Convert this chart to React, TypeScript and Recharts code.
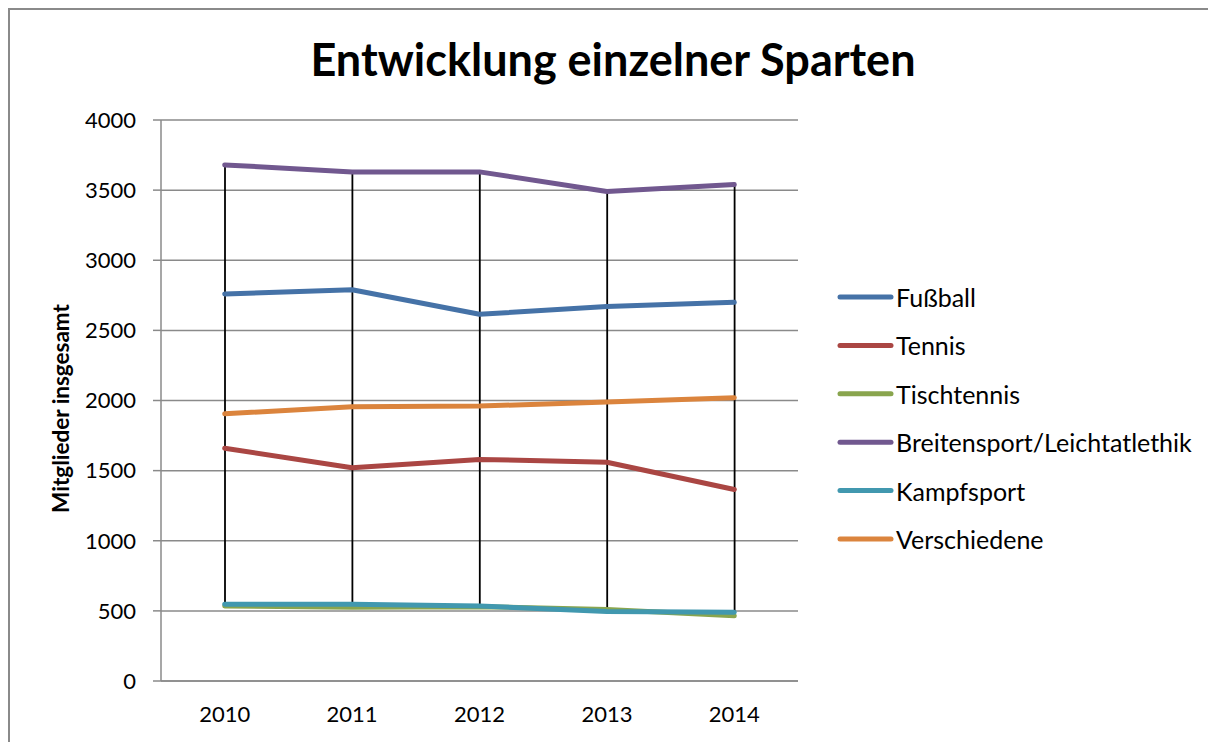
import { ComposedChart, Line, Bar, XAxis, YAxis, CartesianGrid } from 'recharts';

// Mitglieder je Sparte, 2010–2014
const years = ['2010', '2011', '2012', '2013', '2014'];
const fussball = [2760, 2790, 2615, 2670, 2700];
const tennis = [1660, 1520, 1580, 1560, 1365];
const tischtennis = [535, 525, 530, 510, 465];
const breitensport = [3680, 3630, 3630, 3490, 3540];
const kampfsport = [547, 548, 535, 495, 490];
const verschiedene = [1905, 1955, 1960, 1990, 2020];
const yTicks = [0, 500, 1000, 1500, 2000, 2500, 3000, 3500, 4000];

const series = [
  { key: 'Fußball', values: fussball, color: '#4572A7' },
  { key: 'Tennis', values: tennis, color: '#AA4643' },
  { key: 'Tischtennis', values: tischtennis, color: '#89A54E' },
  { key: 'Breitensport/Leichtatlethik', values: breitensport, color: '#71588F' },
  { key: 'Kampfsport', values: kampfsport, color: '#4198AF' },
  { key: 'Verschiedene', values: verschiedene, color: '#DB843D' },
];

// Tabelle für Recharts, inkl. Hoch-Tief-Linien (min/max je Jahr)
const data = years.map((year, i) => {
  const row: Record<string, any> = { year };
  series.forEach((s) => (row[s.key] = s.values[i]));
  const vals = series.map((s) => s.values[i]);
  row.hilo = [Math.min(...vals), Math.max(...vals)];
  return row;
});

const FONT = 'Lato, "Open Sans", sans-serif';
const GRID = '#8a8a8a';

// senkrechte schwarze Linie statt Balken
function HiLoLine(props: any) {
  const { x, y, width, height } = props;
  const cx = x + width / 2;
  return <line x1={cx} x2={cx} y1={y} y2={y + height} stroke="#000" strokeWidth={1.8} />;
}

export default function App() {
  return (
    <div
      style={{
        position: 'relative',
        width: 1208,
        height: 734,
        borderTop: `2px solid ${GRID}`,
        borderLeft: `2px solid ${GRID}`,
        boxSizing: 'border-box',
        background: '#fff',
        fontFamily: FONT,
      }}
    >
      <ComposedChart
        width={1206}
        height={732}
        data={data}
        margin={{ top: 110, right: 418, bottom: 0, left: 0 }}
      >
        <CartesianGrid vertical={false} stroke={GRID} strokeWidth={1.5} />
        <XAxis
          dataKey="year"
          height={61}
          axisLine={{ stroke: GRID, strokeWidth: 1.5 }}
          tickLine={false}
          tickSize={0}
          tickMargin={25}
          tick={{ fontSize: 22, fill: '#000', fontFamily: FONT }}
        />
        <YAxis
          width={151}
          domain={[0, 4000]}
          ticks={yTicks}
          interval={0}
          axisLine={{ stroke: GRID, strokeWidth: 1.5 }}
          tickLine={{ stroke: GRID, strokeWidth: 1.5 }}
          tickSize={8}
          tickMargin={17}
          tick={{ fontSize: 22, fill: '#000', fontFamily: FONT }}
          label={{
            content: (p: any) => {
              const vb = p.viewBox;
              const cy = vb.y + vb.height / 2 + 8;
              return (
                <text
                  x={50}
                  y={cy}
                  transform={`rotate(-90, 50, ${cy})`}
                  textAnchor="middle"
                  dominantBaseline="central"
                  fontSize={22.5}
                  fontWeight="bold"
                  fontFamily={FONT}
                  fill="#000"
                >
                  Mitglieder insgesamt
                </text>
              );
            },
          }}
        />
        {series.map((s) => (
          <Line
            key={s.key}
            dataKey={s.key}
            stroke={s.color}
            strokeWidth={5}
            strokeLinecap="round"
            strokeLinejoin="round"
            dot={false}
            activeDot={false}
            isAnimationActive={false}
          />
        ))}
        <Bar dataKey="hilo" barSize={4} shape={<HiLoLine />} isAnimationActive={false} />
      </ComposedChart>

      <svg
        width={1206}
        height={732}
        style={{ position: 'absolute', left: 0, top: 0, pointerEvents: 'none' }}
      >
        <text
          x={603}
          y={66}
          textAnchor="middle"
          fontSize={45}
          fontWeight="bold"
          fontFamily={FONT}
          fill="#000"
        >
          Entwicklung einzelner Sparten
        </text>
        {series.map((s, i) => {
          const cy = 287 + i * 48.4;
          return (
            <g key={s.key}>
              <line x1={830} x2={881} y1={cy} y2={cy} stroke={s.color} strokeWidth={5} strokeLinecap="round" />
              <text x={886} y={cy} dominantBaseline="central" fontSize={25} fontFamily={FONT} fill="#000">
                {s.key}
              </text>
            </g>
          );
        })}
      </svg>
    </div>
  );
}
